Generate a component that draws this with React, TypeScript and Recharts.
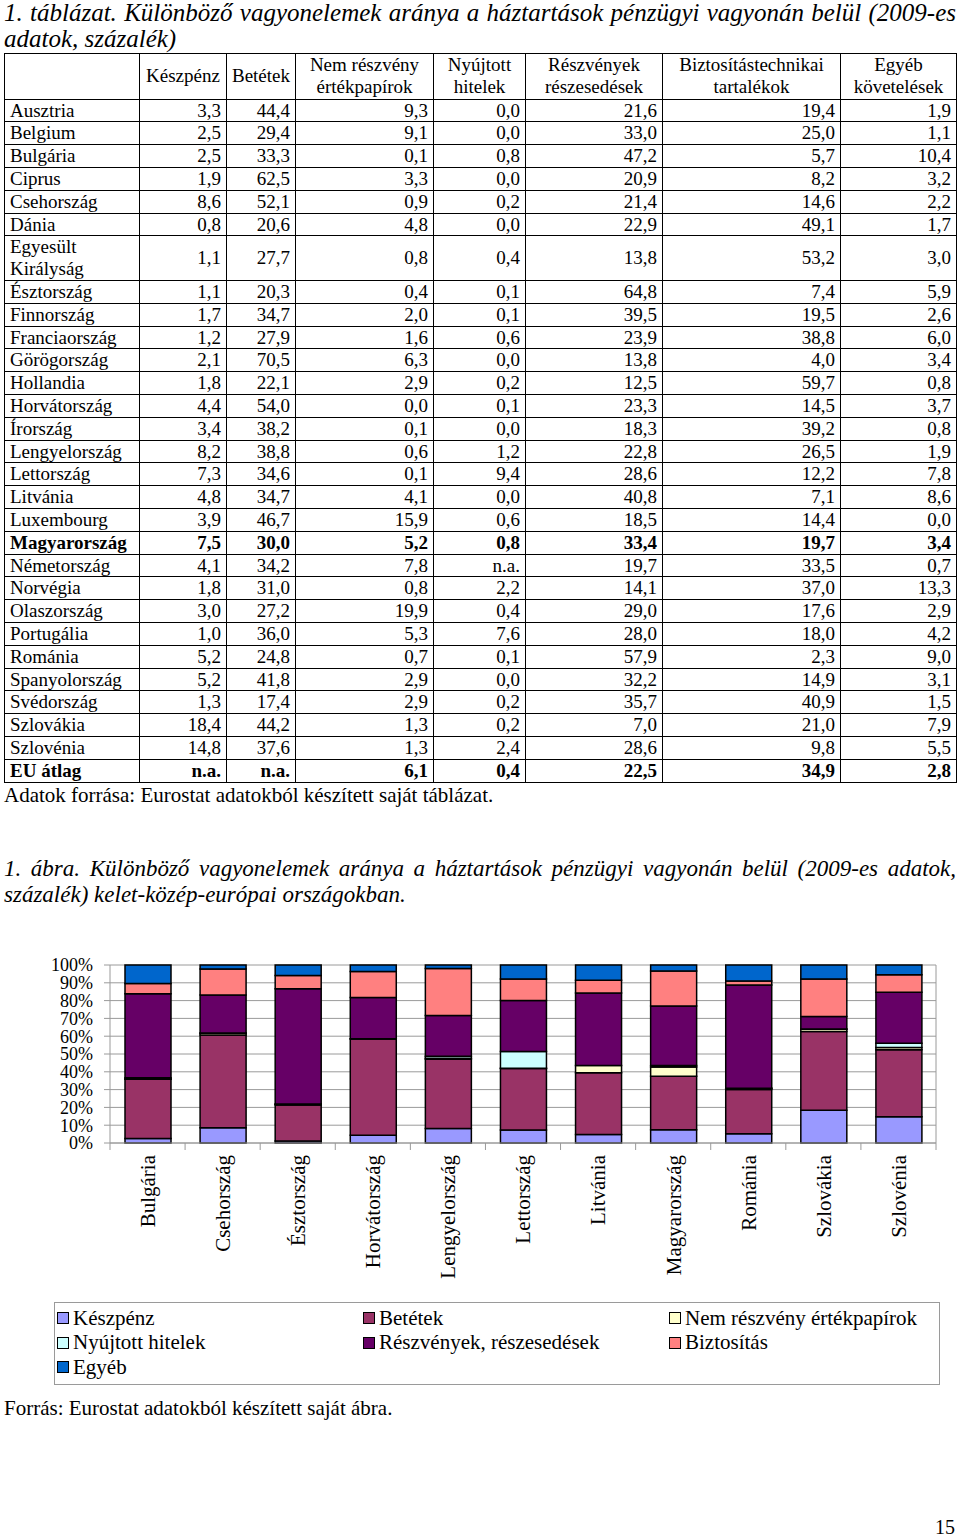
import React from 'react';
import { BarChart, Bar, XAxis, YAxis, CartesianGrid, Legend } from 'recharts';

const FONT = '"Liberation Serif", "Times New Roman", serif';

// ---------- Table data ----------
const tableHeaders = [
  '',
  'Készpénz',
  'Betétek',
  'Nem részvény\nértékpapírok',
  'Nyújtott\nhitelek',
  'Részvények\nrészesedések',
  'Biztosítástechnikai\ntartalékok',
  'Egyéb\nkövetelések',
];
const tableCountries = [
  'Ausztria', 'Belgium', 'Bulgária', 'Ciprus', 'Csehország', 'Dánia', 'Egyesült\nKirályság',
  'Észtország', 'Finnország', 'Franciaország', 'Görögország', 'Hollandia', 'Horvátország',
  'Írország', 'Lengyelország', 'Lettország', 'Litvánia', 'Luxembourg', 'Magyarország',
  'Németország', 'Norvégia', 'Olaszország', 'Portugália', 'Románia', 'Spanyolország',
  'Svédország', 'Szlovákia', 'Szlovénia', 'EU átlag',
];
const boldRows = ['Magyarország', 'EU átlag'];
const colKeszpenz = ['3,3','2,5','2,5','1,9','8,6','0,8','1,1','1,1','1,7','1,2','2,1','1,8','4,4','3,4','8,2','7,3','4,8','3,9','7,5','4,1','1,8','3,0','1,0','5,2','5,2','1,3','18,4','14,8','n.a.'];
const colBetetek = ['44,4','29,4','33,3','62,5','52,1','20,6','27,7','20,3','34,7','27,9','70,5','22,1','54,0','38,2','38,8','34,6','34,7','46,7','30,0','34,2','31,0','27,2','36,0','24,8','41,8','17,4','44,2','37,6','n.a.'];
const colNemReszveny = ['9,3','9,1','0,1','3,3','0,9','4,8','0,8','0,4','2,0','1,6','6,3','2,9','0,0','0,1','0,6','0,1','4,1','15,9','5,2','7,8','0,8','19,9','5,3','0,7','2,9','2,9','1,3','1,3','6,1'];
const colHitelek = ['0,0','0,0','0,8','0,0','0,2','0,0','0,4','0,1','0,1','0,6','0,0','0,2','0,1','0,0','1,2','9,4','0,0','0,6','0,8','n.a.','2,2','0,4','7,6','0,1','0,0','0,2','0,2','2,4','0,4'];
const colReszvenyek = ['21,6','33,0','47,2','20,9','21,4','22,9','13,8','64,8','39,5','23,9','13,8','12,5','23,3','18,3','22,8','28,6','40,8','18,5','33,4','19,7','14,1','29,0','28,0','57,9','32,2','35,7','7,0','28,6','22,5'];
const colBiztositas = ['19,4','25,0','5,7','8,2','14,6','49,1','53,2','7,4','19,5','38,8','4,0','59,7','14,5','39,2','26,5','12,2','7,1','14,4','19,7','33,5','37,0','17,6','18,0','2,3','14,9','40,9','21,0','9,8','34,9'];
const colEgyeb = ['1,9','1,1','10,4','3,2','2,2','1,7','3,0','5,9','2,6','6,0','3,4','0,8','3,7','0,8','1,9','7,8','8,6','0,0','3,4','0,7','13,3','2,9','4,2','9,0','3,1','1,5','7,9','5,5','2,8'];
const tableColumns = [colKeszpenz, colBetetek, colNemReszveny, colHitelek, colReszvenyek, colBiztositas, colEgyeb];
const colWidths = [135, 87, 69, 138, 92, 137, 178, 116];

// ---------- Chart data ----------
const chartCountries = ['Bulgária', 'Csehország', 'Észtország', 'Horvátország', 'Lengyelország', 'Lettország', 'Litvánia', 'Magyarország', 'Románia', 'Szlovákia', 'Szlovénia'];
const keszpenz = [2.5, 8.6, 1.1, 4.4, 8.2, 7.3, 4.8, 7.5, 5.2, 18.4, 14.8];
const betetek = [33.3, 52.1, 20.3, 54.0, 38.8, 34.6, 34.7, 30.0, 24.8, 44.2, 37.6];
const nemReszveny = [0.1, 0.9, 0.4, 0.0, 0.6, 0.1, 4.1, 5.2, 0.7, 1.3, 1.3];
const hitelek = [0.8, 0.2, 0.1, 0.1, 1.2, 9.4, 0.0, 0.8, 0.1, 0.2, 2.4];
const reszvenyek = [47.2, 21.4, 64.8, 23.3, 22.8, 28.6, 40.8, 33.4, 57.9, 7.0, 28.6];
const biztositas = [5.7, 14.6, 7.4, 14.5, 26.5, 12.2, 7.1, 19.7, 2.3, 21.0, 9.8];
const egyeb = [10.4, 2.2, 5.9, 3.7, 1.9, 7.8, 8.6, 3.4, 9.0, 7.9, 5.5];
const yTicks = [0, 0.1, 0.2, 0.3, 0.4, 0.5, 0.6, 0.7, 0.8, 0.9, 1];

const series = [
  { key: 'keszpenz', name: 'Készpénz', color: '#9999FF', values: keszpenz },
  { key: 'betetek', name: 'Betétek', color: '#993366', values: betetek },
  { key: 'nemReszveny', name: 'Nem részvény értékpapírok', color: '#FFFFCC', values: nemReszveny },
  { key: 'hitelek', name: 'Nyújtott hitelek', color: '#CCFFFF', values: hitelek },
  { key: 'reszvenyek', name: 'Részvények, részesedések', color: '#660066', values: reszvenyek },
  { key: 'biztositas', name: 'Biztosítás', color: '#FF8080', values: biztositas },
  { key: 'egyeb', name: 'Egyéb', color: '#0066CC', values: egyeb },
];

const chartData = chartCountries.map((c, i) => {
  const row: Record<string, number | string> = { country: c };
  series.forEach((s) => { row[s.key] = s.values[i]; });
  return row;
});

const GRID = '#9a9a9a';
const BAND = 826 / 11;

function XTick(props: any) {
  const { x, y, payload, index } = props;
  const half = BAND / 2;
  const ty = y + 12;
  return (
    <g>
      <line x1={x - half} x2={x - half} y1={y} y2={y + 7} stroke={GRID} />
      {index === chartCountries.length - 1 && (
        <line x1={x + half} x2={x + half} y1={y} y2={y + 7} stroke={GRID} />
      )}
      <text
        x={x}
        y={ty}
        dy="0.35em"
        transform={`rotate(-90, ${x}, ${ty})`}
        textAnchor="end"
        fontFamily={FONT}
        fontSize={21}
        fill="#000"
      >
        {payload.value}
      </text>
    </g>
  );
}

function LegendBox() {
  return (
    <div
      style={{
        boxSizing: 'border-box',
        width: 886,
        height: 83,
        border: `1px solid ${GRID}`,
        padding: '3px 0 0 2px',
        display: 'grid',
        gridTemplateColumns: '306px 306px 1fr',
        gridAutoRows: '24.5px',
        fontFamily: FONT,
        fontSize: 21,
        color: '#000',
      }}
    >
      {series.map((s) => (
        <div key={s.key} style={{ display: 'flex', alignItems: 'center', whiteSpace: 'nowrap' }}>
          <span
            style={{
              display: 'inline-block',
              width: 10,
              height: 10,
              background: s.color,
              border: '1px solid #000',
              marginRight: 4,
            }}
          />
          <span>{s.name}</span>
        </div>
      ))}
    </div>
  );
}

const cellBase: React.CSSProperties = {
  border: '1px solid #000',
  padding: '0 5px',
  lineHeight: '21.8px',
  verticalAlign: 'middle',
  whiteSpace: 'pre-line',
  overflow: 'hidden',
};

function DataTable() {
  return (
    <table
      style={{
        position: 'absolute',
        left: 4,
        top: 53,
        width: 952,
        borderCollapse: 'collapse',
        tableLayout: 'fixed',
        fontFamily: FONT,
        fontSize: 19,
        color: '#000',
      }}
    >
      <colgroup>
        {colWidths.map((w, i) => (
          <col key={i} style={{ width: w }} />
        ))}
      </colgroup>
      <tbody>
        <tr>
          {tableHeaders.map((h, i) => (
            <td key={i} style={{ ...cellBase, textAlign: 'center', lineHeight: '22.3px', padding: '0 2px' }}>
              {h}
            </td>
          ))}
        </tr>
        {tableCountries.map((c, r) => {
          const bold = boldRows.includes(c);
          return (
            <tr key={c}>
              <td style={{ ...cellBase, textAlign: 'left', fontWeight: bold ? 'bold' : 'normal' }}>{c}</td>
              {tableColumns.map((col, ci) => (
                <td key={ci} style={{ ...cellBase, textAlign: 'right', fontWeight: bold ? 'bold' : 'normal' }}>
                  {col[r]}
                </td>
              ))}
            </tr>
          );
        })}
      </tbody>
    </table>
  );
}

const justifyLine: React.CSSProperties = { textAlign: 'justify', textAlignLast: 'justify' as any, whiteSpace: 'nowrap' };

export default function App() {
  return (
    <div
      style={{
        position: 'absolute',
        left: 0,
        top: 0,
        width: 960,
        height: 1537,
        background: '#fff',
        fontFamily: FONT,
        color: '#000',
        overflow: 'hidden',
      }}
    >
      <div style={{ position: 'absolute', left: 4, top: 0, width: 952, fontStyle: 'italic', fontSize: 25, lineHeight: '26px' }}>
        <div style={justifyLine}>1. táblázat. Különböző vagyonelemek aránya a háztartások pénzügyi vagyonán belül (2009-es</div>
        <div>adatok, százalék)</div>
      </div>

      <DataTable />

      <div style={{ position: 'absolute', left: 4, top: 783, fontSize: 21, lineHeight: '24px' }}>
        Adatok forrása: Eurostat adatokból készített saját táblázat.
      </div>

      <div style={{ position: 'absolute', left: 4, top: 856, width: 952, fontStyle: 'italic', fontSize: 23, lineHeight: '26px' }}>
        <div style={justifyLine}>1. ábra. Különböző vagyonelemek aránya a háztartások pénzügyi vagyonán belül (2009-es adatok,</div>
        <div>százalék) kelet-közép-európai országokban.</div>
      </div>

      <div style={{ position: 'absolute', left: 0, top: 940 }}>
        <BarChart
          width={960}
          height={460}
          data={chartData}
          stackOffset="expand"
          margin={{ top: 25, right: 0, bottom: 0, left: 0 }}
          barSize={46}
        >
          <CartesianGrid vertical={false} stroke={GRID} strokeWidth={1} />
          <XAxis
            dataKey="country"
            interval={0}
            height={257}
            tickLine={false}
            tickSize={0}
            tickMargin={0}
            axisLine={{ stroke: GRID }}
            tick={<XTick />}
          />
          <YAxis
            width={110}
            domain={[0, 1]}
            ticks={yTicks}
            interval={0}
            tickFormatter={(v: number) => `${Math.round(v * 100)}%`}
            tick={{ fontFamily: FONT, fontSize: 18, fill: '#000' }}
            tickLine={{ stroke: GRID }}
            axisLine={{ stroke: GRID }}
            tickSize={6}
            tickMargin={11}
          />
          <YAxis
            yAxisId="right"
            orientation="right"
            width={24}
            domain={[0, 1]}
            tick={false}
            tickLine={false}
            axisLine={{ stroke: GRID }}
          />
          {series.map((s) => (
            <Bar
              key={s.key}
              dataKey={s.key}
              name={s.name}
              stackId="a"
              fill={s.color}
              stroke="#000"
              strokeWidth={1.5}
              isAnimationActive={false}
            />
          ))}
          <Legend
            layout="horizontal"
            verticalAlign="middle"
            align="center"
            wrapperStyle={{ top: 362, left: 54, width: 886, height: 83 }}
            content={() => <LegendBox />}
          />
        </BarChart>
      </div>

      <div style={{ position: 'absolute', left: 4, top: 1396, fontSize: 21, lineHeight: '24px' }}>
        Forrás: Eurostat adatokból készített saját ábra.
      </div>

      <div style={{ position: 'absolute', right: 5, top: 1517, fontSize: 20, lineHeight: '20px' }}>15</div>
    </div>
  );
}
